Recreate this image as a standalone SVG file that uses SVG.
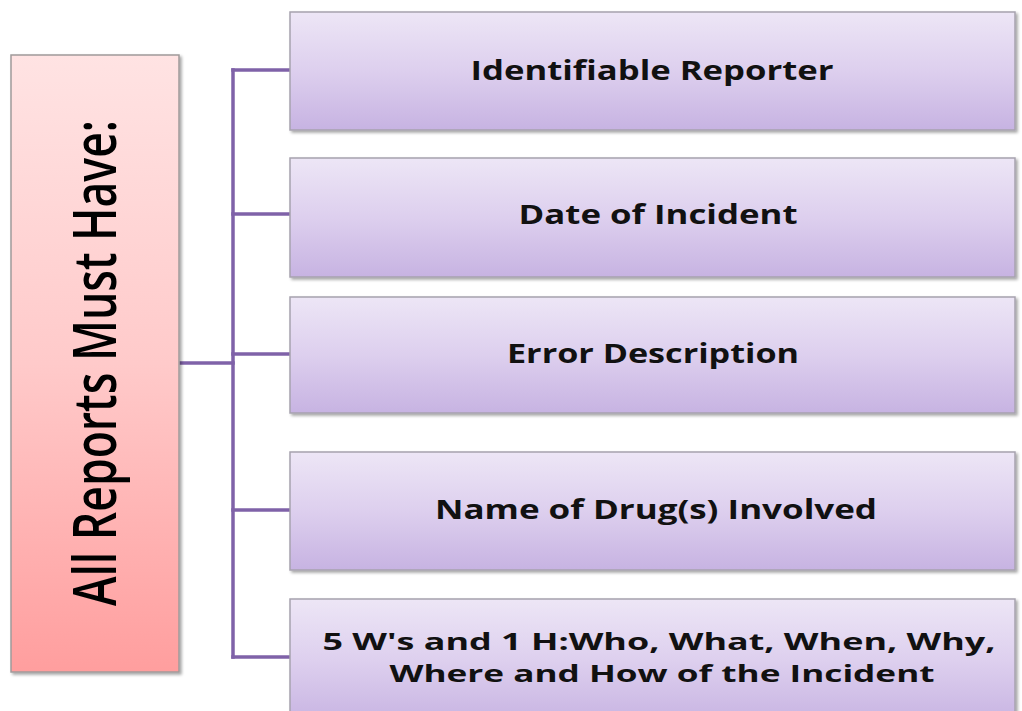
<svg xmlns="http://www.w3.org/2000/svg" width="1022" height="711" viewBox="0 0 1022 711">
  <defs>
    <linearGradient id="gPink" x1="0" y1="0" x2="0" y2="1">
      <stop offset="0" stop-color="#FFE3E3"/>
      <stop offset="0.5" stop-color="#FFCACA"/>
      <stop offset="1" stop-color="#FF9E9E"/>
    </linearGradient>
    <linearGradient id="gLav" x1="0" y1="0" x2="0" y2="1">
      <stop offset="0" stop-color="#EDE6F6"/>
      <stop offset="0.5" stop-color="#DDCFEE"/>
      <stop offset="1" stop-color="#C7B3E2"/>
    </linearGradient>
    <filter id="shadow" x="-5%" y="-5%" width="110%" height="115%">
      <feDropShadow dx="2" dy="2" stdDeviation="1.5" flood-color="#000" flood-opacity="0.35"/>
    </filter>
  </defs>
  <style>
    .item { fill: url(#gLav); stroke: #A7A2AE; stroke-width: 1.5; filter: url(#shadow); }
    .root { fill: url(#gPink); stroke: #A09A9A; stroke-width: 1.5; filter: url(#shadow); }
    .lbl { font-family: "Open Sans", "Liberation Sans", sans-serif; font-weight: bold; font-size: 26px; fill: #111; text-anchor: middle; }
    .lbl2 { font-size: 24px; }
    .rootlbl { font-family: "Open Sans", "Liberation Sans", sans-serif; font-weight: 600; font-size: 60px; fill: #000; text-anchor: middle; }
    .wire { fill: none; stroke: #7F62A8; stroke-width: 3.5; stroke-linecap: square; }
  </style>

  <rect width="1022" height="711" fill="#FFFFFF"/>

  <!-- tree connectors -->
  <g id="connectors">
    <path class="wire" d="M181 363 H233"/>
    <path class="wire" d="M233 70 V657"/>
    <path class="wire" d="M233 70 H289"/>
    <path class="wire" d="M233 214 H289"/>
    <path class="wire" d="M233 354 H289"/>
    <path class="wire" d="M233 510 H289"/>
    <path class="wire" d="M233 657 H289"/>
  </g>

  <!-- root -->
  <g id="root">
    <rect class="root" x="11" y="55" width="168" height="617"/>
    <text class="rootlbl" transform="translate(116 363) rotate(-90)" x="0" y="0" textLength="486" lengthAdjust="spacingAndGlyphs">All Reports Must Have:</text>
  </g>

  <g id="item1">
    <rect class="item" x="290" y="12" width="725" height="118"/>
    <text class="lbl" x="652" y="80" textLength="363" lengthAdjust="spacingAndGlyphs">Identifiable Reporter</text>
  </g>

  <g id="item2">
    <rect class="item" x="290" y="158" width="725" height="119"/>
    <text class="lbl" x="658" y="224" textLength="279" lengthAdjust="spacingAndGlyphs">Date of Incident</text>
  </g>

  <g id="item3">
    <rect class="item" x="290" y="297" width="725" height="116"/>
    <text class="lbl" x="653" y="363" textLength="292" lengthAdjust="spacingAndGlyphs">Error Description</text>
  </g>

  <g id="item4">
    <rect class="item" x="290" y="452" width="725" height="118"/>
    <text class="lbl" x="656" y="519" textLength="442" lengthAdjust="spacingAndGlyphs">Name of Drug(s) Involved</text>
  </g>

  <g id="item5">
    <rect class="item" x="290" y="599" width="725" height="125"/>
    <text class="lbl lbl2" x="659" y="650" textLength="673" lengthAdjust="spacingAndGlyphs">5 W's and 1 H:Who, What, When, Why,</text>
    <text class="lbl lbl2" x="662" y="682" textLength="545" lengthAdjust="spacingAndGlyphs">Where and How of the Incident</text>
  </g>
</svg>
